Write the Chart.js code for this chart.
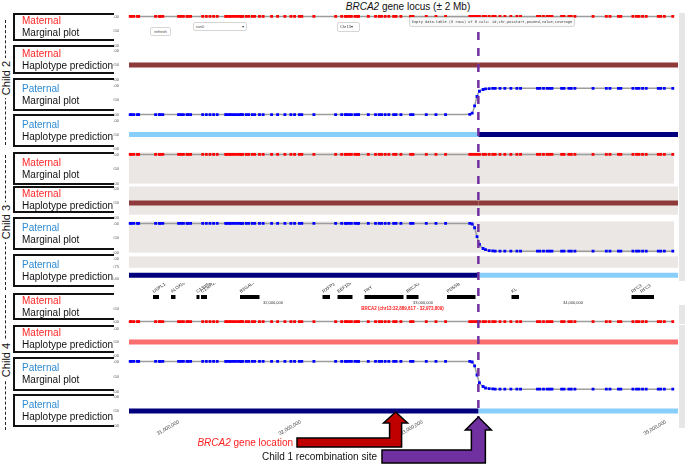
<!DOCTYPE html>
<html>
<head>
<meta charset="utf-8">
<title>BRCA2 gene locus</title>
<script src="https://cdn.jsdelivr.net/npm/chart.js@4.4.1/dist/chart.umd.min.js"></script>
<style>
  html,body{margin:0;padding:0;background:#fff}
  #fig{position:relative;width:685px;height:464px;overflow:hidden;font-family:"Liberation Sans",Arial,Helvetica,sans-serif;color:#111}
  #fig canvas{position:absolute}
  .title{position:absolute;top:1px;left:300px;width:216px;text-align:center;font-size:10px}
  .box{position:absolute;left:13px;width:101px;box-sizing:border-box;border-left:2px solid #111;border-top:2px solid #111;border-bottom:2px solid #111;padding-left:7px;font-size:10px;line-height:12px;display:flex;flex-direction:column;justify-content:center;white-space:nowrap}
  .mat{color:#ff2626}
  .pat{color:#2f8bd4}
  .dash{position:absolute;left:5px;border-left:1px dashed #222}
  .clab{position:absolute;left:6px;transform:translate(-50%,-50%) rotate(-90deg);background:#fff;padding:0 3px;font-size:11px;white-space:nowrap}
  .ui{position:absolute;border:1px solid #d6d6d6;border-radius:2px;background:#fff;font-size:4px;line-height:8px;color:#444;box-sizing:border-box;padding:0 2px;white-space:nowrap;overflow:hidden}
  .tab{position:absolute;left:679px;width:12px;background:#e6e6e6;font-size:4px;color:#555;writing-mode:vertical-rl;padding-top:2px;box-sizing:border-box;overflow:hidden;white-space:nowrap}
</style>
</head>
<body>
<div id="fig">
  <div class="title"><i>BRCA2</i> gene locus (± 2 Mb)</div>
</div>
<script>
// ---- data (Mb on chr13) ----
const snpMb = [
  30.60,30.61,30.63,30.66,30.67,30.81,30.84,30.85,30.87,31.00,
  31.02,31.04,31.07,31.08,31.10,31.20,31.23,31.26,31.29,31.32,
  31.39,31.40,31.42,31.43,31.45,31.47,31.49,31.51,31.52,31.53,
  31.56,31.58,31.61,31.63,31.67,31.70,31.77,31.82,31.88,31.93,
  31.96,32.00,32.02,32.12,32.30,32.35,32.38,32.39,32.41,32.43,
  32.46,32.48,32.49,32.57,32.63,32.66,32.68,32.71,32.74,32.78,
  32.80,32.84,32.92,32.94,33.05,33.13,33.21,33.41,33.43,33.45,
  33.47,33.49,33.52,33.54,33.57,33.60,33.62,33.66,33.70,33.75,
  33.80,33.83,33.97,33.99,34.02,34.05,34.07,34.09,34.17,34.19,
  34.23,34.25,34.28,34.43,34.54,34.57,34.64,34.66,34.76,34.79,
  34.81,34.84,34.87,34.97,34.99,35.02,35.09
];

const c2Mat = [
  1,1,1,1,1,1,1,1,1,1, 1,1,1,1,1,1,1,1,1,1, 1,1,1,1,1,1,1,1,1,1,
  1,1,1,1,1,1,1,1,1,1, 1,1,1,1,1,1,1,1,1,1, 1,1,1,1,1,1,1,1,1,1,
  1,1,1,1,1,1,1,1,1,1, 1,1,1,1,1,1,1,1,1,1, 1,1,1,1,1,1,1,1,1,1,
  1,1,1,1,1,1,1,1,1,1, 1,1,1,1,1,1,1
];
const c2Pat = [
  0,0,0,0,0,0,0,0,0,0, 0,0,0,0,0,0,0,0,0,0, 0,0,0,0,0,0,0,0,0,0,
  0,0,0,0,0,0,0,0,0,0, 0,0,0,0,0,0,0,0,0,0, 0,0,0,0,0,0,0,0,0,0,
  0,0,0,0,0,0,0,0.01,0.05,0.3,
  0.62,0.8,0.86,0.88,0.89,0.9,0.9,0.9,0.9,0.9,
  0.9,0.9,0.9,0.9,0.9,0.9,0.9,0.9,0.9,0.9,
  0.9,0.9,0.9,0.9,0.9,0.9,0.9,0.9,0.9,0.9,
  0.9,0.9,0.9,0.9,0.9,0.9,0.9
];
const c3Mat = [
  1,1,1,1,1,1,1,1,1,1, 1,1,1,1,1,1,1,1,1,1, 1,1,1,1,1,1,1,1,1,1,
  1,1,1,1,1,1,1,1,1,1, 1,1,1,1,1,1,1,1,1,1, 1,1,1,1,1,1,1,1,1,1,
  1,1,1,1,1,1,1,1,1,1, 1,1,1,1,1,1,1,1,1,1, 1,1,1,1,1,1,1,1,1,1,
  1,1,1,1,1,1,1,1,1,1, 1,1,1,1,1,1,1
];
const c3Pat = [
  1,1,1,1,1,1,1,1,1,1, 1,1,1,1,1,1,1,1,1,1, 1,1,1,1,1,1,1,1,1,1,
  1,1,1,1,1,1,1,1,1,1, 1,1,1,1,1,1,1,1,1,1, 1,1,1,1,1,1,1,1,1,1,
  1,1,1,1,1,1,1,1,0.98,0.85,
  0.55,0.28,0.14,0.1,0.07,0.06,0.05,0.05,0.05,0.05,
  0.05,0.05,0.05,0.05,0.05,0.05,0.05,0.05,0.05,0.05,
  0.05,0.05,0.05,0.05,0.05,0.05,0.05,0.05,0.05,0.05,
  0.05,0.05,0.05,0.05,0.05,0.05,0.05
];
const c4Mat = [
  0,0,0,0,0,0,0,0,0,0, 0,0,0,0,0,0,0,0,0,0, 0,0,0,0,0,0,0,0,0,0,
  0,0,0,0,0,0,0,0,0,0, 0,0,0,0,0,0,0,0,0,0, 0,0,0,0,0,0,0,0,0,0,
  0,0,0,0,0,0,0,0,0,0, 0,0,0,0,0,0,0,0,0,0, 0,0,0,0,0,0,0,0,0,0,
  0,0,0,0,0,0,0,0,0,0, 0,0,0,0,0,0,0
];
const c4Pat = [
  1,1,1,1,1,1,1,1,1,1, 1,1,1,1,1,1,1,1,1,1, 1,1,1,1,1,1,1,1,1,1,
  1,1,1,1,1,1,1,1,1,1, 1,1,1,1,1,1,1,1,1,1, 1,1,1,1,1,1,1,1,1,1,
  1,1,1,1,1,1,1,1,0.98,0.85,
  0.55,0.3,0.17,0.12,0.1,0.09,0.08,0.08,0.08,0.08,
  0.08,0.08,0.08,0.08,0.08,0.08,0.08,0.08,0.08,0.08,
  0.08,0.08,0.08,0.08,0.08,0.08,0.08,0.08,0.08,0.08,
  0.08,0.08,0.08,0.08,0.08,0.08,0.08
];

// haplotype calls, one per segment between breakpoints
const hapBreaks = [30.59, 33.46, 35.10];
const c2MatHap = ['M1','M1'];
const c2PatHap = ['P2','P1'];
const c3MatHap = ['M1','M1'];
const c3PatHap = ['P1','P2'];
const c4MatHap = ['M2','M2'];
const c4PatHap = ['P1','P2'];

const geneNames = ['USPL1','ALOX5AP','C13orf33','C13orf26','B3GALTL','RXFP2','EEF1DP3','FRY','BRCA2','PDS5B','KL','RFC3','RFC3'];
const geneStart = [31.20,31.32,31.49,31.52,31.78,32.33,32.43,32.61,32.89,33.16,33.59,34.39,34.45];
const geneEnd   = [31.24,31.35,31.51,31.56,31.91,32.38,32.53,32.87,32.97,33.35,33.64,34.54,34.54];
const geneTicksMb = [32, 33, 34];
const axisTicksMb = [31, 32, 33, 35];

const recombMb = 33.46;
const brcaArrowMb = 32.78;

// ---- styles / layout ----
const X_MIN = 30.59, X_MAX = 35.10;
const GENE_X_MIN = 31.04, GENE_X_MAX = 34.70;
const RED = '#ff0000', BLUE = '#0000ff';
const hapColor = {M1:'#8e3a3a', M2:'#fa6e6e', P1:'#00007f', P2:'#87cefa'};
const SHADE = '#ebe7e5';
const fmt = v => Math.round(v*1e6).toLocaleString('en-US');

Chart.defaults.font.family = '"Liberation Sans", Arial, sans-serif';

const fig = document.getElementById('fig');
function el(tag, cls, css, html){
  const d = document.createElement(tag);
  if(cls) d.className = cls;
  Object.assign(d.style, css||{});
  if(html!=null) d.innerHTML = html;
  fig.appendChild(d);
  return d;
}
function canvas(left, top, w, h){
  const c = el('canvas', null, {left:left+'px', top:top+'px', width:w+'px', height:h+'px'});
  c.width = w; c.height = h;
  return c;
}

const tracks = [
  {name:'Child2Mat',        top:15,  bottom:47,  vals:c2Mat, col:RED},
  {name:'Child2Mat_phased', top:49,  bottom:81,  hap:c2MatHap},
  {name:'Child2Pat',        top:84,  bottom:116, vals:c2Pat, col:BLUE},
  {name:'Child2Pat_phased', top:119, bottom:150, hap:c2PatHap},
  {name:'Child3Mat',        top:153, bottom:185, vals:c3Mat, col:RED, shade:[1,0]},
  {name:'Child3Mat_phased', top:187, bottom:219, hap:c3MatHap, shade:[1,0.1]},
  {name:'Child3Pat',        top:222, bottom:254, vals:c3Pat, col:BLUE, shade:[1,0]},
  {name:'Child3Pat_phased', top:257, bottom:280, ymin:0.4, hap:c3PatHap, shade:[1,0.72]},
  {name:'Child4Mat',        top:307, bottom:323, ymax:0.5, vals:c4Mat, col:RED},
  {name:'Child4Mat_phased', top:327, bottom:357, hap:c4MatHap},
  {name:'Child4Pat',        top:360, bottom:393, vals:c4Pat, col:BLUE},
  {name:'Child4Pat_phased', top:395, bottom:427, hap:c4PatHap}
];

function buildTrack(t){
  const pad = 3, axisW = 16, left = 129 - axisW;
  const cv = canvas(left, t.top - pad, 678 - left, t.bottom - t.top + 2*pad);
  let datasets;
  if(t.vals){
    datasets = [{
      data: snpMb.map((x,i)=>({x, y:t.vals[i]})),
      borderColor:'#9c9c9c', borderWidth:1.5,
      pointStyle:'rect', pointRadius:2, pointBorderWidth:0,
      pointBackgroundColor:t.col, cubicInterpolationMode:'monotone', clip:4
    }];
  } else {
    datasets = t.hap.map((h,i)=>({
      data:[{x:hapBreaks[i], y:0.5},{x:hapBreaks[i+1], y:0.5}],
      borderColor:hapColor[h], borderWidth:5, borderCapStyle:'butt', pointRadius:0, clip:4
    }));
  }
  const shade = {
    id:'shade',
    beforeDatasetsDraw(chart){
      if(!t.shade) return;
      const {ctx, chartArea:a, scales:{y}} = chart;
      const y0 = y.getPixelForValue(t.shade[0]) - 2, y1 = y.getPixelForValue(t.shade[1]);
      ctx.save(); ctx.fillStyle = SHADE; ctx.fillRect(a.left, y0, a.right - a.left, y1 - y0); ctx.restore();
    }
  };
  new Chart(cv, {
    type:'line',
    data:{datasets},
    options:{
      responsive:false, animation:false, events:[],
      layout:{padding:{top:pad, bottom:pad, left:0, right:0}},
      plugins:{legend:{display:false}, tooltip:{enabled:false}},
      scales:{
        x:{type:'linear', min:X_MIN, max:X_MAX, display:false},
        y:{min:t.ymin ?? 0, max:t.ymax ?? 1,
           afterFit:s=>{ s.width = axisW; },
           grid:{display:false}, border:{display:false},
           ticks:{stepSize:0.25, font:{size:4}, color:'#555', padding:2, callback:v=>v.toFixed(2)}}
      }
    },
    plugins:[shade]
  });
}
tracks.forEach(buildTrack);

// gene annotation track
(function(){
  const top = 283, h = 28;
  const cv = canvas(129, top, 549, h);
  const labels = {
    id:'geneLabels',
    afterDatasetsDraw(chart){
      const {ctx, scales:{x, y}} = chart;
      const yb = y.getPixelForValue(0.5);
      ctx.save();
      ctx.fillStyle = '#222'; ctx.font = '4.5px "Liberation Sans", Arial';
      geneNames.forEach((n,i)=>{
        ctx.save();
        ctx.translate(x.getPixelForValue(geneStart[i]) + 1, yb - 4);
        ctx.rotate(-35*Math.PI/180);
        ctx.fillText(n, 0, 0);
        ctx.restore();
      });
      ctx.font = '4px "Liberation Sans", Arial'; ctx.fillStyle = '#333'; ctx.textAlign = 'center';
      geneTicksMb.forEach(v=>ctx.fillText(fmt(v), x.getPixelForValue(v), yb + 7));
      const b = geneNames.indexOf('BRCA2');
      ctx.fillStyle = '#ff1a1a'; ctx.font = 'bold 4.5px "Liberation Sans", Arial';
      ctx.fillText('BRCA2 (chr13:32,889,617 - 32,973,809)', x.getPixelForValue(geneStart[b]) - 4, yb + 13);
      ctx.restore();
    }
  };
  new Chart(cv, {
    type:'line',
    data:{datasets: geneNames.map((n,i)=>({
      data:[{x:geneStart[i], y:0.5},{x:geneEnd[i], y:0.5}],
      borderColor:'#000', borderWidth:4, borderCapStyle:'butt', pointRadius:0
    }))},
    options:{
      responsive:false, animation:false, events:[],
      layout:{padding:0},
      plugins:{legend:{display:false}, tooltip:{enabled:false}},
      scales:{
        x:{type:'linear', min:GENE_X_MIN, max:GENE_X_MAX, display:false},
        y:{min:0, max:1, display:false}
      }
    },
    plugins:[labels]
  });
})();

// left side labels
const boxes = [
  [13,41,'mat','Maternal','Marginal plot'],[45,74,'mat','Maternal','Haplotype prediction'],
  [78,111,'pat','Paternal','Marginal plot'],[114,147,'pat','Paternal','Haplotype prediction'],
  [152,185,'mat','Maternal','Marginal plot'],[186,213,'mat','Maternal','Haplotype prediction'],
  [217,250,'pat','Paternal','Marginal plot'],[254,287,'pat','Paternal','Haplotype prediction'],
  [293,320,'mat','Maternal','Marginal plot'],[325,353,'mat','Maternal','Haplotype prediction'],
  [357,391,'pat','Paternal','Marginal plot'],[394,427,'pat','Paternal','Haplotype prediction']
];
boxes.forEach(b=>el('div','box',{top:b[0]+'px', height:(b[1]-b[0])+'px'},
  `<span class="${b[2]}">${b[3]}</span><span>${b[4]}</span>`));
[['Child 2',20,145,78],['Child 3',155,290,222],['Child 4',295,430,360]].forEach(c=>{
  el('div','dash',{top:c[1]+'px', height:(c[2]-c[1])+'px'});
  el('div','clab',{top:c[3]+'px'}, c[0]);
});

// right side track tabs
tracks.forEach(t=>el('div','tab',{top:(t.top-2)+'px', height:(t.bottom-t.top+3)+'px'}, t.name));

// browser widgets captured in the screenshot
el('div','ui',{left:'150px', top:'27px', width:'21px', height:'9px', textAlign:'center'}, 'refresh');
el('div','ui',{left:'193px', top:'22px', width:'54px', height:'9px'}, 'run0<span style="float:right">&#9662;</span>');
el('div','ui',{left:'337px', top:'22px', width:'23px', height:'10px'}, 'Chr13&#9662;');
el('div','ui',{left:'409px', top:'17px', width:'166px', height:'10px', background:'#f9f9f9', fontFamily:'"DejaVu Sans Mono",monospace', fontSize:'3.6px'},
  'Empty data.table (0 rows) of 8 cols: id,chr,posstart,posend,value,coverage');

// overlay: genomic axis, recombination line and arrows
(function(){
  const cv = canvas(0, 0, 685, 464);
  cv.style.pointerEvents = 'none';
  function arrow(ctx, tip, yTip, yHead, yBar1, yBar2, xTail, half, headHalf, fill){
    ctx.beginPath();
    ctx.moveTo(tip, yTip);
    ctx.lineTo(tip+headHalf, yHead);
    ctx.lineTo(tip+half, yHead);
    ctx.lineTo(tip+half, yBar2);
    ctx.lineTo(xTail, yBar2);
    ctx.lineTo(xTail, yBar1);
    ctx.lineTo(tip-half, yBar1);
    ctx.lineTo(tip-half, yHead);
    ctx.lineTo(tip-headHalf, yHead);
    ctx.closePath();
    ctx.fillStyle = fill; ctx.fill();
    ctx.lineWidth = 1.5; ctx.strokeStyle = '#000'; ctx.stroke();
  }
  const annot = {
    id:'annot',
    afterDraw(chart){
      const {ctx, scales:{x}} = chart;
      const rx = x.getPixelForValue(recombMb);
      const bx = x.getPixelForValue(brcaArrowMb);
      ctx.save();
      ctx.strokeStyle = '#7030a0'; ctx.lineWidth = 2.5; ctx.setLineDash([8,8]);
      ctx.beginPath(); ctx.moveTo(rx, 32); ctx.lineTo(rx, 424); ctx.stroke();
      ctx.setLineDash([]);
      arrow(ctx, bx, 412, 423, 438, 447, 297, 6, 12, '#c00000');
      arrow(ctx, rx, 417, 430, 450, 463, 382, 7, 13, '#7030a0');
      ctx.textBaseline = 'middle';
      const fn = '10px "Liberation Sans", Arial';
      ctx.font = 'italic ' + fn; const w1 = ctx.measureText('BRCA2').width;
      ctx.font = fn; const w2 = ctx.measureText(' gene location').width;
      const x0 = 293 - w1 - w2;
      ctx.fillStyle = '#ff2020';
      ctx.font = 'italic ' + fn; ctx.fillText('BRCA2', x0, 443);
      ctx.font = fn; ctx.fillText(' gene location', x0 + w1, 443);
      ctx.fillStyle = '#111'; ctx.textAlign = 'right';
      ctx.fillText('Child 1 recombination site', 377, 457);
      ctx.restore();
    }
  };
  new Chart(cv, {
    type:'line',
    data:{datasets:[]},
    options:{
      responsive:false, animation:false, events:[],
      layout:{padding:{left:129, right:7, top:0, bottom:0}},
      plugins:{legend:{display:false}, tooltip:{enabled:false}},
      scales:{
        x:{type:'linear', min:X_MIN, max:X_MAX, position:'bottom',
           grid:{display:false, drawTicks:false}, border:{display:false},
           afterBuildTicks:s=>{ s.ticks = axisTicksMb.map(v=>({value:v})); },
           afterFit:s=>{ s.height = 48; },
           ticks:{autoSkip:false, minRotation:30, maxRotation:30, font:{size:5}, color:'#333', padding:3, callback:v=>fmt(v)}},
        y:{display:false, min:0, max:1}
      }
    },
    plugins:[annot]
  });
})();
</script>
</body>
</html>
